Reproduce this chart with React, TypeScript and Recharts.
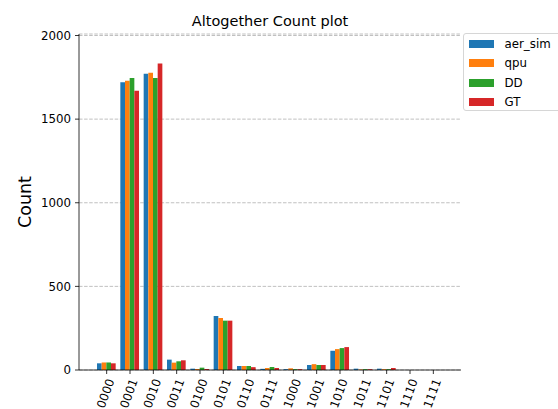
import { BarChart, Bar, XAxis, YAxis, CartesianGrid, Legend } from 'recharts'

const states = ['0000', '0001', '0010', '0011', '0100', '0101', '0110', '0111', '1000', '1001', '1010', '1011', '1101', '1110', '1111']
const aerSim = [40, 1720, 1772, 62, 8, 323, 24, 7, 5, 30, 115, 8, 8, 0, 0]
const qpu = [45, 1730, 1778, 44, 6, 311, 24, 12, 10, 35, 125, 3, 5, 0, 0]
const dd = [45, 1746, 1746, 52, 14, 295, 24, 18, 5, 30, 131, 5, 5, 0, 0]
const gt = [40, 1670, 1832, 58, 6, 295, 17, 12, 5, 30, 137, 5, 12, 0, 0]
const yTicks = [0, 500, 1000, 1500, 2000]

const series = [
  { key: 'aer_sim', values: aerSim, color: '#1f77b4' },
  { key: 'qpu', values: qpu, color: '#ff7f0e' },
  { key: 'DD', values: dd, color: '#2ca02c' },
  { key: 'GT', values: gt, color: '#d62728' },
]

const data = states.map((s, i) => {
  const row: Record<string, string | number> = { state: s }
  series.forEach(sr => { row[sr.key] = sr.values[i] })
  return row
})

const font = '"DejaVu Sans", sans-serif'

const XTick = ({ x, y, payload }: any) => (
  <g transform={`translate(${x - 1},${y + 17.5})`}>
    <text
      transform="rotate(-70)"
      textAnchor="middle"
      dominantBaseline="central"
      fontSize={11.8}
      fontFamily={font}
      fill="#000"
    >
      {payload.value}
    </text>
  </g>
)

const YLabel = ({ viewBox }: any) => {
  const cy = viewBox.y + viewBox.height / 2
  return (
    <text
      x={25}
      y={cy}
      transform={`rotate(-90, 25, ${cy})`}
      textAnchor="middle"
      dominantBaseline="central"
      fontSize={17.5}
      fontFamily={font}
      fill="#000"
    >
      Count
    </text>
  )
}

const LegendBox = () => (
  <div
    style={{
      border: '1px solid #d6d6d6',
      borderRadius: 3,
      background: '#fff',
      width: 100,
      height: 78,
      boxSizing: 'border-box',
    }}
  >
    {series.map(s => (
      <div key={s.key} style={{ display: 'flex', alignItems: 'center', height: 19.5 }}>
        <div style={{ width: 25, height: 8, background: s.color, marginLeft: 4.5 }} />
        <span style={{ marginLeft: 11, fontSize: 11.8, fontFamily: font, color: '#000' }}>{s.key}</span>
      </div>
    ))}
  </div>
)

export default function App() {
  return (
    <div style={{ position: 'absolute', left: 0, top: 0, width: 558, height: 409, background: '#fff', overflow: 'hidden' }}>
      <div
        style={{
          position: 'absolute',
          left: 70,
          width: 400,
          top: 14.4,
          textAlign: 'center',
          fontFamily: font,
          fontSize: 14.5,
          lineHeight: '14.5px',
          color: '#000',
        }}
      >
        Altogether Count plot
      </div>
      <BarChart
        width={558}
        height={409}
        data={data}
        margin={{ top: 34, right: 97, bottom: 0, left: 29 }}
        barGap={0}
        barSize={4.67}
      >
        <CartesianGrid horizontal vertical={false} stroke="#b0b0b0" strokeDasharray="3.5 1.6" strokeWidth={0.8} />
        <XAxis
          dataKey="state"
          height={39}
          padding={{ left: 16, right: 16 }}
          interval={0}
          tick={<XTick />}
          tickSize={4}
          tickMargin={2}
          axisLine={{ stroke: '#000', strokeWidth: 0.8 }}
          tickLine={{ stroke: '#000', strokeWidth: 0.8 }}
        />
        <XAxis
          xAxisId="top"
          orientation="top"
          dataKey="state"
          height={0}
          tick={false}
          tickLine={false}
          axisLine={{ stroke: '#000', strokeWidth: 0.8 }}
        />
        <YAxis
          width={50}
          domain={[0, 2009]}
          ticks={yTicks}
          interval={0}
          tickSize={4}
          tickMargin={4}
          tick={{ fill: '#000', fontSize: 11.8, fontFamily: font }}
          axisLine={{ stroke: '#000', strokeWidth: 0.8 }}
          tickLine={{ stroke: '#000', strokeWidth: 0.8 }}
          label={<YLabel />}
        />
        <YAxis
          yAxisId="right"
          orientation="right"
          width={0}
          domain={[0, 2009]}
          tick={false}
          tickLine={false}
          axisLine={{ stroke: '#000', strokeWidth: 0.8 }}
        />
        <Legend
          layout="vertical"
          align="center"
          verticalAlign="middle"
          content={<LegendBox />}
          wrapperStyle={{ left: 463, top: 33, width: 100, height: 78 }}
        />
        {series.map(s => (
          <Bar key={s.key} dataKey={s.key} fill={s.color} isAnimationActive={false} />
        ))}
      </BarChart>
    </div>
  )
}
